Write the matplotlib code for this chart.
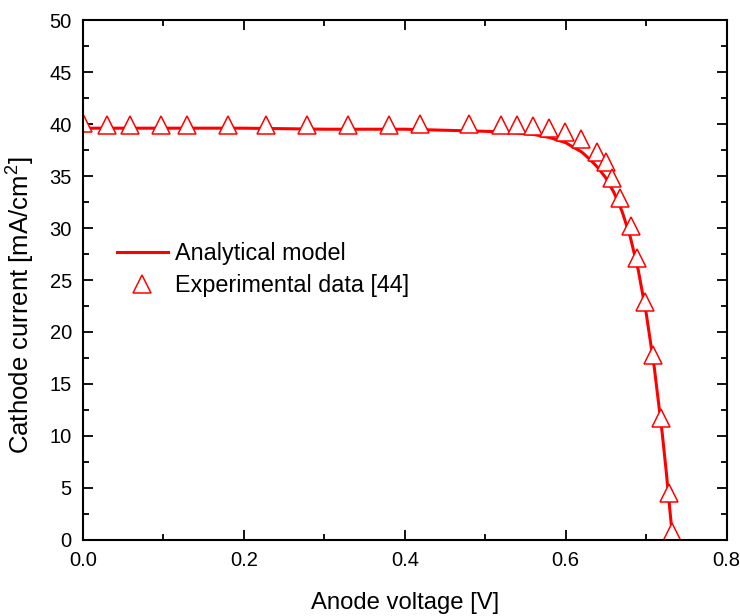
import matplotlib
import matplotlib.pyplot as plt
from matplotlib.ticker import MultipleLocator

matplotlib.use("Agg")

plt.rcParams["font.family"] = ["Liberation Sans", "DejaVu Sans"]
plt.rcParams["mathtext.fontset"] = "custom"
plt.rcParams["mathtext.rm"] = "Liberation Sans"
plt.rcParams["mathtext.it"] = "Liberation Sans"

# Analytical model
model_v = [0.0, 0.10, 0.20, 0.30, 0.40, 0.45, 0.50, 0.53, 0.56, 0.58, 0.60, 0.62,
           0.63, 0.64, 0.65, 0.66, 0.67, 0.68, 0.69, 0.70, 0.71, 0.72, 0.725, 0.73, 0.733]
model_i = [39.6, 39.6, 39.6, 39.5, 39.5, 39.4, 39.3, 39.2, 39.0, 38.7, 38.2, 37.3,
           36.6, 35.8, 34.8, 33.4, 31.6, 29.2, 26.0, 21.8, 16.6, 10.2, 6.5, 2.4, 0.0]

# Experimental data [44]
exp_v = [0.0, 0.03, 0.058, 0.097, 0.129, 0.180, 0.228, 0.279, 0.330, 0.380, 0.419,
         0.480, 0.519, 0.539, 0.559, 0.579, 0.599, 0.619, 0.639, 0.650, 0.658, 0.668,
         0.681, 0.689, 0.698, 0.709, 0.718, 0.728, 0.732]
exp_i = [40.1, 39.9, 39.9, 39.9, 39.9, 39.9, 39.9, 39.9, 39.9, 39.9, 40.0,
         40.0, 39.9, 39.9, 39.8, 39.6, 39.2, 38.6, 37.3, 36.3, 34.8, 32.9,
         30.2, 27.1, 22.9, 17.8, 11.7, 4.5, 0.8]

fig = plt.figure(figsize=(7.4, 6.16), dpi=100)
ax = fig.add_axes([0.112, 0.1234, 0.870, 0.8441])

ax.plot(model_v, model_i, color="#ff0000", linewidth=2.2, label="Analytical model")
ax.plot(exp_v, exp_i, linestyle="none", marker="^", markersize=13,
        markerfacecolor="white", markeredgecolor="#ff0000", markeredgewidth=1.1,
        label="Experimental data [44]")

ax.set_xlim(0, 0.8)
ax.set_ylim(0, 50)
ax.xaxis.set_major_locator(MultipleLocator(0.2))
ax.xaxis.set_minor_locator(MultipleLocator(0.1))
ax.yaxis.set_major_locator(MultipleLocator(5))
ax.yaxis.set_minor_locator(MultipleLocator(2.5))
ax.xaxis.set_major_formatter(matplotlib.ticker.FormatStrFormatter("%.1f"))

ax.tick_params(which="both", direction="in", top=True, right=True, width=1.3,
               labelsize=14.5, pad=8)
ax.tick_params(which="major", length=7)
ax.tick_params(which="minor", length=4)
for s in ax.spines.values():
    s.set_linewidth(1.5)

ax.set_xlabel("Anode voltage [V]", fontsize=17.2, labelpad=16)
ax.set_ylabel("Cathode current [mA/cm$^2$]", fontsize=18.5)
ax.yaxis.set_label_coords(-0.072, 0.452)

ax.legend(loc="center left", bbox_to_anchor=(0.02, 0.52), frameon=False,
          fontsize=16.8, handlelength=2.2, handletextpad=0.3, labelspacing=0.4)

fig.savefig("out.png", dpi=100)
plt.close()
